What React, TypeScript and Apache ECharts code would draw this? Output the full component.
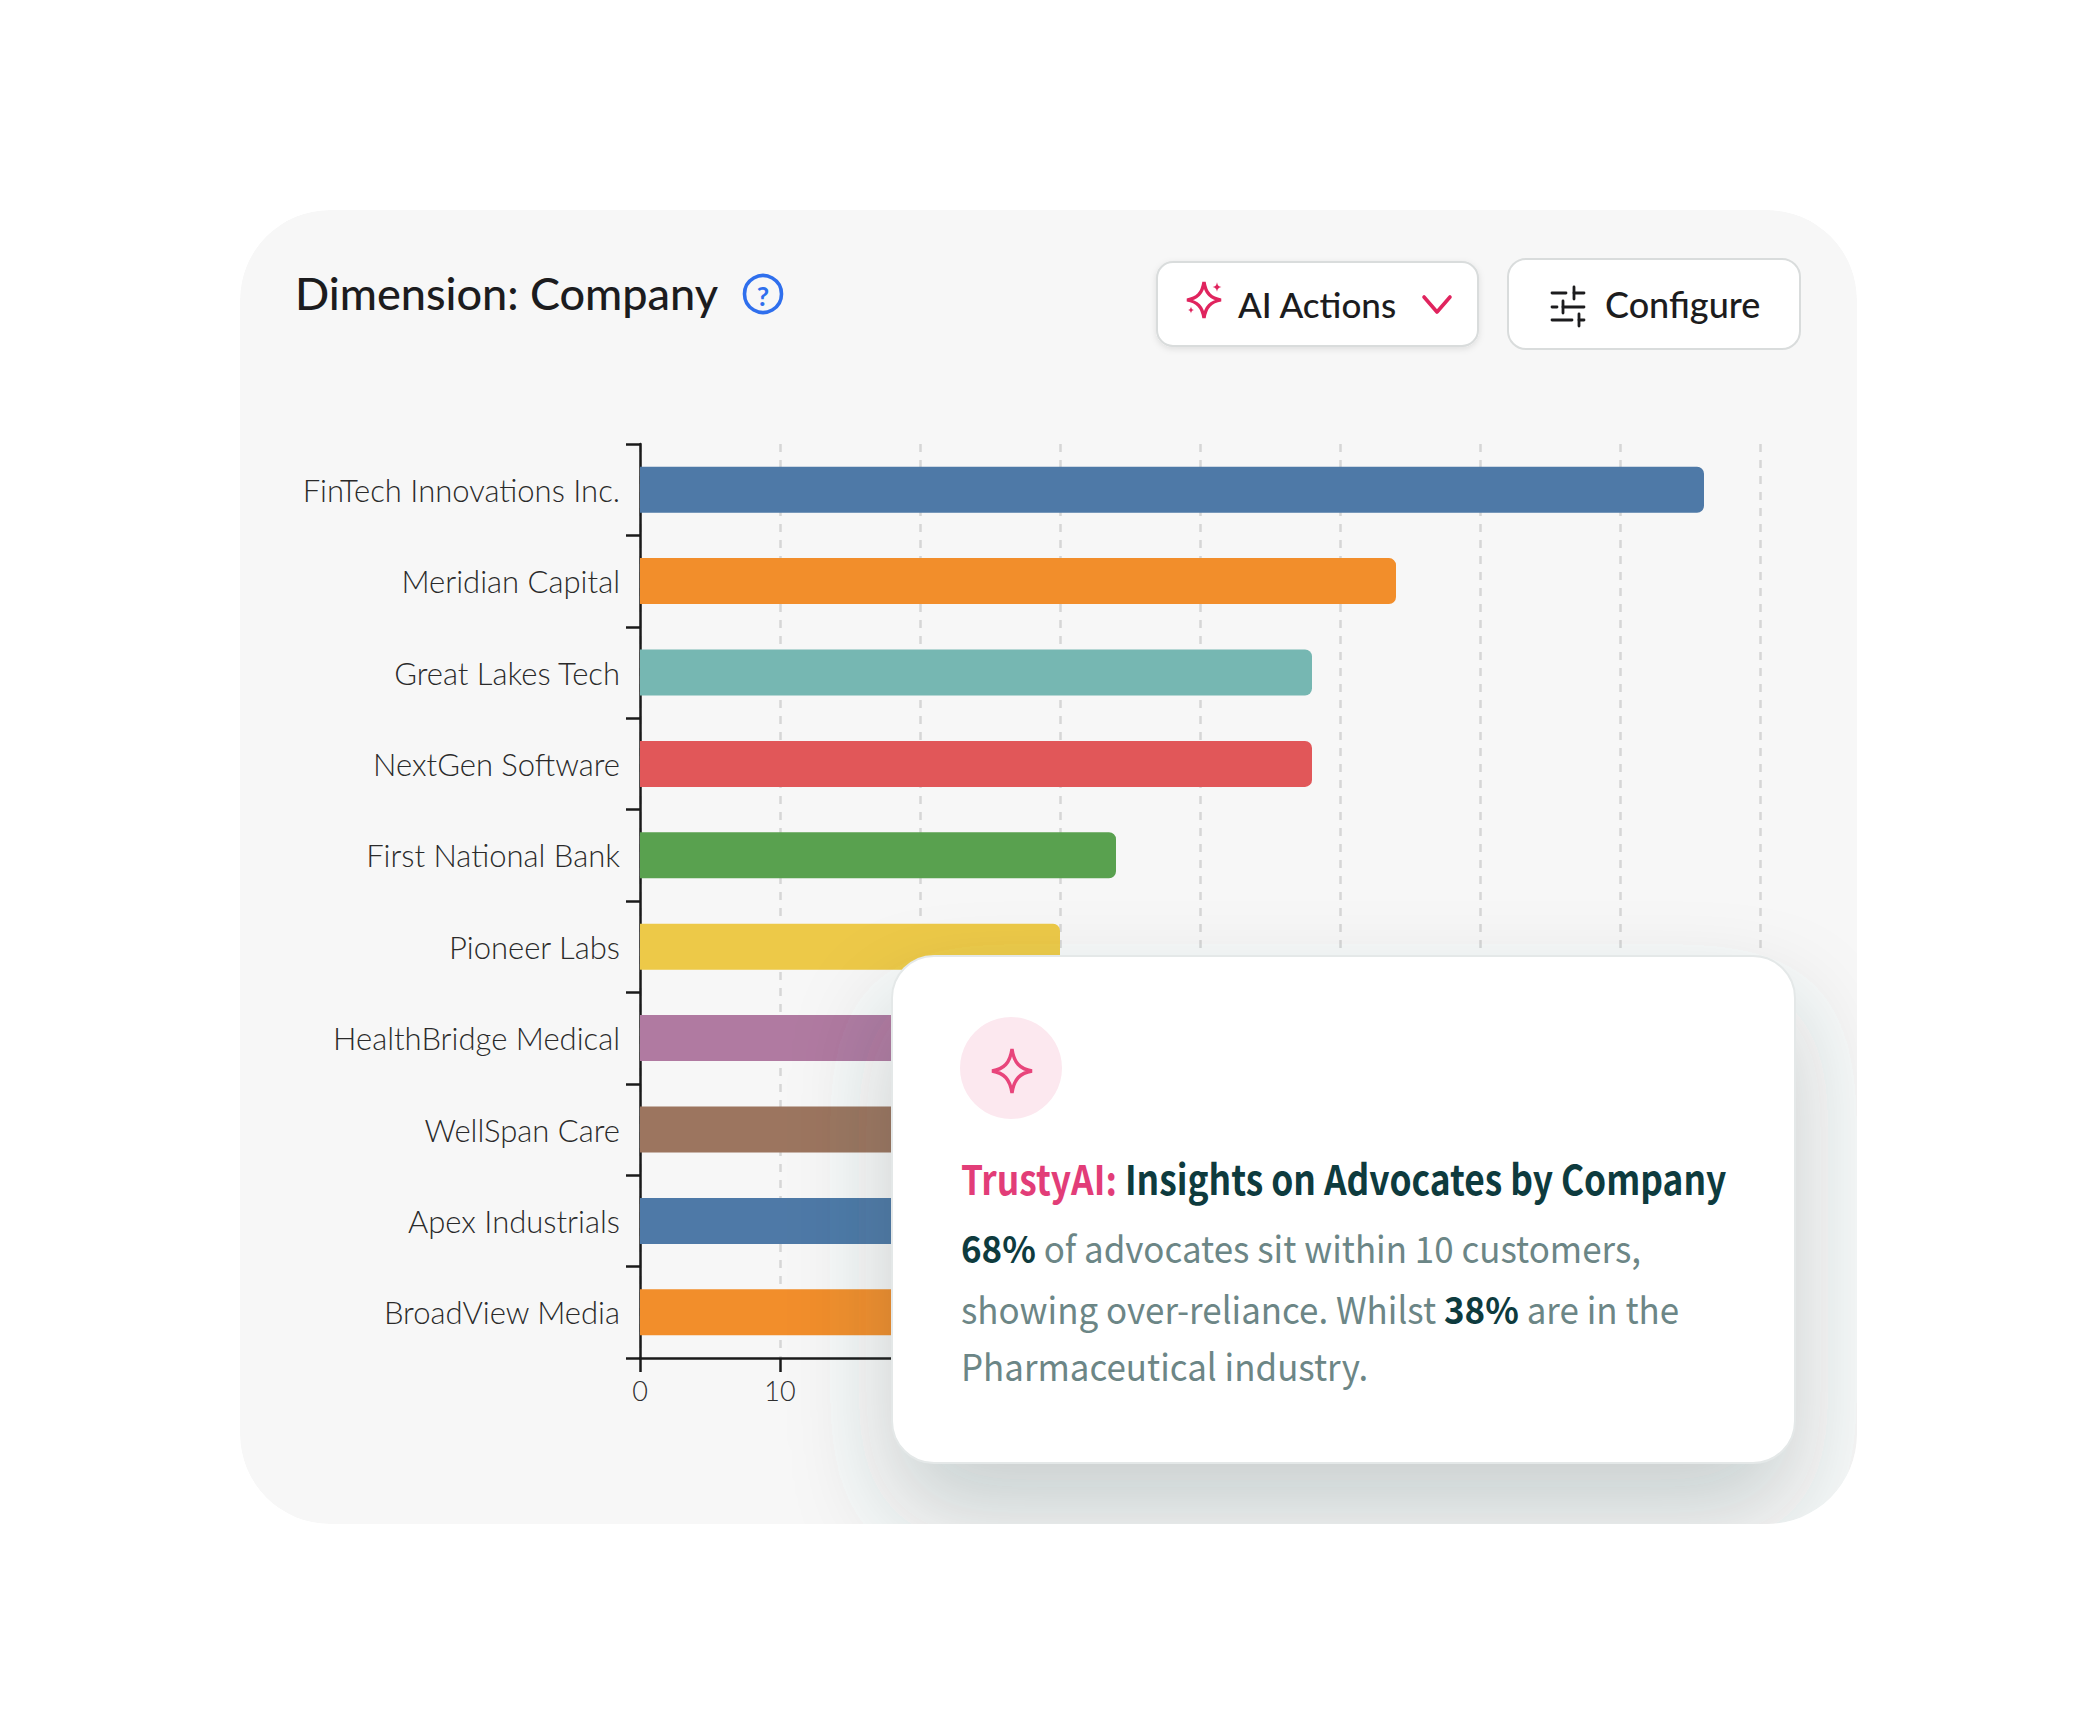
import React, { useEffect, useRef } from "react";
import * as echarts from "echarts";

const categories = ["FinTech Innovations Inc.", "Meridian Capital", "Great Lakes Tech", "NextGen Software", "First National Bank", "Pioneer Labs", "HealthBridge Medical", "WellSpan Care", "Apex Industrials", "BroadView Media"];
const values = [76, 54, 48, 48, 34, 30, 26, 24, 22, 20];
const colors = ["#4E79A7", "#F28E2B", "#76B7B2", "#E15759", "#59A14F", "#EDC948", "#B07AA1", "#9C755F", "#4E79A7", "#F28E2B"];

const UI = "Lato, 'Noto Sans', sans-serif";
const SRC = "'Noto Sans CJK SC', 'Open Sans', sans-serif";

const rrect = (x: number, y: number, w: number, h: number, r: number) =>
  `M${x + r} ${y} A${r} ${r} 0 0 0 ${x} ${y + r} L${x} ${y + h - r} A${r} ${r} 0 0 0 ${x + r} ${y + h} L${x + w - r} ${y + h} A${r} ${r} 0 0 0 ${x + w} ${y + h - r} L${x + w} ${y + r} A${r} ${r} 0 0 0 ${x + w - r} ${y} Z`;

echarts.graphic.registerShape("outerMask", echarts.graphic.extendPath(`M0 0 L2097 0 L2097 1734 L0 1734 Z ${rrect(240, 210, 1617, 1314, 90)}`, {}) as any);
echarts.graphic.registerShape("star4", echarts.graphic.extendPath("M0 -22 C2 -8 8 -2 20 0 C8 2 2 8 0 22 C-2 8 -8 2 -20 0 C-8 -2 -2 -8 0 -22 Z", {}) as any);

export default function App() {
  const ref = useRef<HTMLDivElement>(null);
  useEffect(() => {
    document.body.style.margin = "0";
    const chart = echarts.init(ref.current!, undefined, { renderer: "svg" });
    const line = (x1: number, y1: number, x2: number, y2: number, stroke: string, lineWidth: number, z = 5) => ({ type: "line", z, shape: { x1, y1, x2, y2 }, style: { stroke, lineWidth, lineCap: "round" } });
    const text = (t: string, x: number, y: number, font: string, size: number, weight: any, fill: string, z = 5, scaleX = 1, rich?: any) => ({
      type: "text", z, x, y, scaleX,
      style: { text: t, x: 0, y: 0, fontFamily: font, fontSize: size, fontWeight: weight, fill, verticalAlign: "middle", align: "left", rich },
    });
    const bodyRich = {
      b: { fontFamily: SRC, fontSize: 37, fontWeight: 700, fill: "#0E3B3E" },
      n: { fontFamily: SRC, fontSize: 37, fontWeight: 400, fill: "#6C8686" },
    };
    chart.setOption({
      animation: false,
      backgroundColor: "#FFFFFF",
      grid: { left: 640, top: 444, width: 1120, height: 914, containLabel: false },
      xAxis: {
        type: "value", min: 0, max: 80, interval: 10,
        axisLine: { show: true, lineStyle: { color: "#1A1A1A", width: 2.5 } },
        axisTick: { show: true, length: 14, lineStyle: { color: "#1A1A1A", width: 2.5 } },
        axisLabel: { color: "#2E2E2E", fontFamily: UI, fontSize: 27, fontWeight: 300, margin: 19, formatter: (v: number) => (v <= 10 ? String(v) : "") },
        splitLine: { show: true, lineStyle: { color: "#D6D6D6", width: 2.5, type: [8, 8] } },
      },
      yAxis: {
        type: "category", inverse: true, data: categories,
        axisLine: { show: true, lineStyle: { color: "#1A1A1A", width: 2.5 } },
        axisTick: { show: true, length: 14, alignWithLabel: false, lineStyle: { color: "#1A1A1A", width: 2.5 } },
        axisLabel: { color: "#2A2A2A", fontFamily: UI, fontSize: 31, fontWeight: 300, margin: 20 },
      },
      series: [{
        type: "bar", barWidth: 46,
        data: values.map((v, i) => ({ value: v, itemStyle: { color: colors[i], borderRadius: [0, 7, 7, 0] } })),
      }],
      graphic: { elements: [
        { type: "rect", z: -1, shape: { x: 240, y: 210, width: 1617, height: 1314, r: 90 }, style: { fill: "#F7F7F7" } },
        text("Dimension: Company", 295, 293, UI, 45, 500, "#1C1C1E"),
        { type: "circle", z: 5, shape: { cx: 763, cy: 294, r: 18.5 }, style: { fill: "none", stroke: "#2F6FED", lineWidth: 3.6 } },
        { type: "text", z: 5, x: 763, y: 295, style: { text: "?", fontFamily: UI, fontSize: 27, fontWeight: 700, fill: "#2F6FED", align: "center", verticalAlign: "middle" } },

        { type: "rect", z: 4, shape: { x: 1157, y: 262, width: 321, height: 84, r: 16 }, style: { fill: "#FFFFFF", stroke: "#D9DCDC", lineWidth: 2, shadowBlur: 6, shadowOffsetY: 2, shadowColor: "rgba(0,0,0,0.10)" } },
        { type: "star4", z: 5, x: 1204, y: 300, scaleX: 0.85, scaleY: 0.82, style: { fill: "none", stroke: "#E0245E", lineWidth: 4 } },
        { type: "star4", z: 5, x: 1217, y: 287, scaleX: 0.22, scaleY: 0.22, style: { fill: "#E0245E" } },
        { type: "star4", z: 5, x: 1191, y: 310, scaleX: 0.16, scaleY: 0.16, style: { fill: "#E0245E" } },
        text("AI Actions", 1238, 304, UI, 35, 500, "#1C1C1E"),
        { type: "polyline", z: 5, shape: { points: [[1424, 297], [1437, 312], [1450, 297]] }, style: { fill: "none", stroke: "#E0245E", lineWidth: 3.6, lineCap: "round", lineJoin: "round" } },

        { type: "rect", z: 4, shape: { x: 1508, y: 259, width: 292, height: 90, r: 18 }, style: { fill: "#FFFFFF", stroke: "#D9DCDC", lineWidth: 2 } },
        line(1552, 293, 1566, 293, "#1C1C1E", 2.8), line(1574, 293, 1584, 293, "#1C1C1E", 2.8), line(1574, 287, 1574, 299, "#1C1C1E", 2.8),
        line(1552, 307, 1557, 307, "#1C1C1E", 2.8), line(1563, 307, 1584, 307, "#1C1C1E", 2.8), line(1563, 301, 1563, 313, "#1C1C1E", 2.8),
        line(1552, 320, 1572, 320, "#1C1C1E", 2.8), line(1579, 320, 1584, 320, "#1C1C1E", 2.8), line(1579, 314, 1579, 326, "#1C1C1E", 2.8),
        text("Configure", 1605, 304, UI, 36, 500, "#1C1C1E"),

        { type: "rect", z: 20, shape: { x: 892, y: 956, width: 903, height: 507, r: 42 }, style: { fill: "#FFFFFF", shadowBlur: 100, shadowOffsetY: 50, shadowColor: "rgba(50,80,80,0.24)" } },
        { type: "outerMask", z: 21, x: 0, y: 0, style: { fill: "#FFFFFF" } },
        { type: "rect", z: 22, shape: { x: 892, y: 956, width: 903, height: 507, r: 42 }, style: { fill: "#FFFFFF", stroke: "#E4E8E8", lineWidth: 2 } },
        { type: "circle", z: 23, shape: { cx: 1011, cy: 1068, r: 51 }, style: { fill: "#FCE8EF" } },
        { type: "star4", z: 24, x: 1012, y: 1071, style: { fill: "none", stroke: "#E8457B", lineWidth: 3.4 } },
        text("{p|TrustyAI:} {h|Insights on Advocates by Company}", 961, 1177, SRC, 41, 700, "#0E3B3E", 24, 0.862, {
          p: { fontFamily: SRC, fontSize: 41, fontWeight: 700, fill: "#E23D78" },
          h: { fontFamily: SRC, fontSize: 41, fontWeight: 700, fill: "#0E3B3E" },
        }),
        text("{b|68%} {n|of advocates sit within 10 customers,}", 961, 1247, SRC, 37, 400, "#6C8686", 24, 0.944, bodyRich),
        text("{n|showing over-reliance. Whilst} {b|38%} {n|are in the}", 961, 1308, SRC, 37, 400, "#6C8686", 24, 0.944, bodyRich),
        text("{n|Pharmaceutical industry.}", 961, 1365, SRC, 37, 400, "#6C8686", 24, 0.944, bodyRich),
      ] },
    } as any);
    return () => chart.dispose();
  }, []);
  return <div ref={ref} style={{ position: "absolute", left: 0, top: 0, width: 2097, height: 1734 }} />;
}
